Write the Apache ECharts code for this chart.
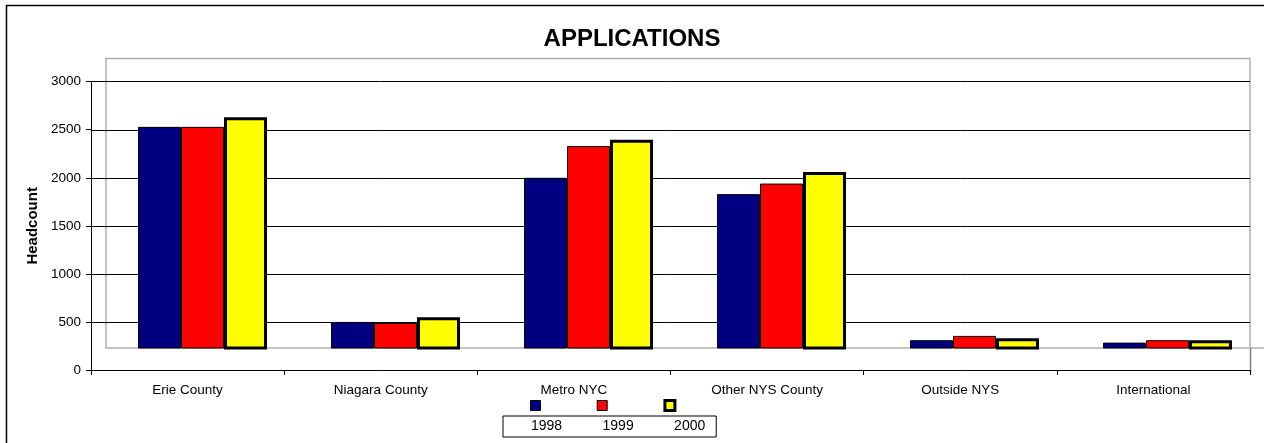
<!DOCTYPE html>
<html>
<head>
<meta charset="utf-8">
<script src="https://cdn.jsdelivr.net/npm/echarts@6/dist/echarts.min.js"></script>
<style>
html,body{margin:0;padding:0;background:#fff;}
#chart{width:1264px;height:443px;}
</style>
</head>
<body>
<div id="chart"></div>
<script>
const categories = ['Erie County', 'Niagara County', 'Metro NYC', 'Other NYS County', 'Outside NYS', 'International'];
const years = ['1998', '1999', '2000'];
const values1998 = [2530, 500, 2000, 1830, 310, 285];
const values1999 = [2530, 490, 2330, 1940, 355, 310];
const values2000 = [2630, 550, 2395, 2060, 330, 310];
const yMin = 0, yMax = 3000, yInterval = 500;

const FONT = 'Liberation Sans, Arial, sans-serif';
const chart = echarts.init(document.getElementById('chart'), null, {renderer: 'canvas'});

const seriesStyles = [
  {color: '#000080', borderColor: '#000000', borderWidth: 1},
  {color: '#ff0000', borderColor: '#000000', borderWidth: 1},
  {color: '#ffff00', borderColor: '#000000', borderWidth: 3}
];
const seriesData = [values1998, values1999, values2000];

chart.setOption({
  animation: false,
  backgroundColor: '#ffffff',
  textStyle: {fontFamily: FONT},
  title: {
    text: 'APPLICATIONS',
    left: 'center',
    top: 22,
    textStyle: {fontSize: 24, fontWeight: 'bold', color: '#000', fontFamily: FONT}
  },
  graphic: [{
    type: 'rect',
    shape: {x: 6.5, y: 5.5, width: 1400, height: 600},
    style: {fill: 'none', stroke: '#000', lineWidth: 1.5},
    silent: true,
    z: -10
  }, {
    type: 'line',
    shape: {x1: 1250, y1: 348, x2: 1264, y2: 348},
    style: {stroke: '#b0b0b0', lineWidth: 1.5},
    silent: true
  }, {
    type: 'line',
    shape: {x1: 1250.5, y1: 348, x2: 1250.5, y2: 373},
    style: {stroke: '#808080', lineWidth: 1.5},
    silent: true
  }],
  legend: [{
    data: years.map(function (y, i) {
      return {name: y, itemStyle: {borderColor: '#000', borderWidth: i === 2 ? 3 : 1}};
    }),
    left: 530,
    top: 399,
    orient: 'horizontal',
    itemWidth: 10,
    itemHeight: 10,
    itemGap: 55.7,
    padding: 0,
    icon: 'rect',
    formatter: function () { return ''; },
    textStyle: {fontSize: 1}
  }, {
    data: years,
    left: 503,
    top: 416,
    orient: 'horizontal',
    itemWidth: 0,
    itemHeight: 0,
    itemGap: 34.4,
    padding: [3.5, 11, 3.5, 22],
    borderColor: '#000',
    borderWidth: 1,
    icon: 'rect',
    textStyle: {fontSize: 14, color: '#000', fontFamily: FONT}
  }],
  grid: [
    {left: 91, right: 14, top: 81.7, bottom: 73},
    {left: 106, right: 14, top: 58.5, bottom: 95, show: true, borderColor: '#b0b0b0', borderWidth: 1.5, backgroundColor: 'transparent'},
    {left: 106, width: 1160, top: 81.7, bottom: 95}
  ],
  xAxis: [
    {
      type: 'category', gridIndex: 0, data: categories,
      axisLine: {lineStyle: {color: '#000', width: 1}},
      axisTick: {show: true, length: 5, lineStyle: {color: '#000'}},
      axisLabel: {color: '#000', fontSize: 13.5, margin: 13, fontFamily: FONT, interval: 0},
      splitLine: {show: false}
    },
    {type: 'category', gridIndex: 1, data: categories, show: false},
    {type: 'category', gridIndex: 2, data: categories, show: false}
  ],
  yAxis: [
    {
      type: 'value', gridIndex: 0, min: yMin, max: yMax, interval: yInterval,
      name: 'Headcount', nameLocation: 'middle', nameRotate: 90, nameGap: 44,
      nameTextStyle: {fontSize: 15, fontWeight: 'bold', color: '#000', fontFamily: FONT},
      axisLine: {show: true, lineStyle: {color: '#000', width: 1}},
      axisTick: {show: true, length: 5, lineStyle: {color: '#000'}},
      axisLabel: {color: '#000', fontSize: 13.5, margin: 10, fontFamily: FONT,
        formatter: function (v) { return String(v); }},
      splitLine: {show: true, lineStyle: {color: '#000', width: 1}}
    },
    {type: 'value', gridIndex: 1, min: 0, max: 1, show: false, splitLine: {show: false}},
    {type: 'value', gridIndex: 2, min: 229, max: yMax, show: false, splitLine: {show: false}}
  ],
  series: years.map(function (y, i) {
    return {
      name: y,
      type: 'bar',
      xAxisIndex: 2,
      yAxisIndex: 2,
      data: seriesData[i],
      barWidth: 43,
      barGap: '0%',
      clip: true,
      itemStyle: seriesStyles[i],
      emphasis: {disabled: true}
    };
  })
});
</script>
</body>
</html>
